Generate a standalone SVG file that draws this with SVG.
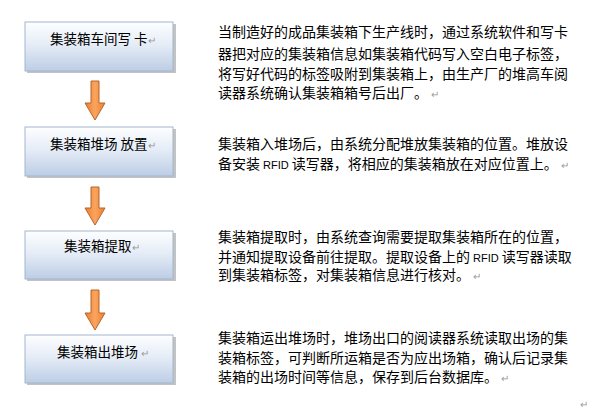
<svg xmlns="http://www.w3.org/2000/svg" width="592" height="411" viewBox="0 0 592 411">
<defs>
<linearGradient id="boxg" x1="0" y1="0" x2="0" y2="1">
<stop offset="0" stop-color="#fdfeff"/>
<stop offset="0.45" stop-color="#e6edf7"/>
<stop offset="1" stop-color="#bccde5"/>
</linearGradient>
<linearGradient id="arrg" x1="0" y1="0" x2="1" y2="0">
<stop offset="0" stop-color="#e9802f"/>
<stop offset="0.5" stop-color="#fba45e"/>
<stop offset="1" stop-color="#e9802f"/>
</linearGradient>
</defs>
<style>
.shadow{fill:#a9a9a9;opacity:0.7}
.box{fill:url(#boxg);stroke:#a3b6cf;stroke-width:1}
.arr{fill:url(#arrg);stroke:#b8652a;stroke-width:1;stroke-linejoin:miter}
.lbl{font-family:"Noto Sans CJK SC","Liberation Sans",sans-serif;font-size:13.5px;fill:#000}
.txt{font-family:"Noto Sans CJK SC","Liberation Sans",sans-serif;font-size:14px;fill:#000}
.rf{font-family:"Liberation Sans","Noto Sans CJK SC",sans-serif;font-size:11px}
.pm{font-family:"Liberation Sans","Noto Sans CJK SC",sans-serif;font-size:10px;fill:#9a9a9a}
</style>
<rect width="592" height="411" fill="#ffffff"/>

<g id="connectors">
<path class="arr" d="M91,81 H99 V103 H105 L95,120 L85,103 H91 Z"/>
<path class="arr" d="M91,187 H99 V208 H105 L95,225 L85,208 H91 Z"/>
<path class="arr" d="M91,290 H99 V313 H105 L95,330 L85,313 H91 Z"/>
</g>

<g id="node1">
<rect class="shadow" x="27" y="24" width="149" height="49"/>
<rect class="box" x="25" y="22" width="148" height="49"/>
<text class="lbl" x="50" y="44">集装箱车间写 卡<tspan class="pm">↵</tspan></text>
</g>
<g id="node2">
<rect class="shadow" x="27" y="129" width="149" height="49"/>
<rect class="box" x="25" y="127" width="148" height="49"/>
<text class="lbl" x="50" y="149">集装箱堆场 放置<tspan class="pm">↵</tspan></text>
</g>
<g id="node3">
<rect class="shadow" x="27" y="233" width="149" height="48"/>
<rect class="box" x="25" y="231" width="148" height="48"/>
<text class="lbl" x="64" y="251">集装箱提取<tspan class="pm">↵</tspan></text>
</g>
<g id="node4">
<rect class="shadow" x="27" y="337" width="149" height="48"/>
<rect class="box" x="25" y="335" width="148" height="48"/>
<text class="lbl" x="57" y="357">集装箱出堆场<tspan class="pm"> ↵</tspan></text>
</g>

<g id="desc1">
<text class="txt" x="218" y="37">当制造好的成品集装箱下生产线时，通过系统软件和写卡</text>
<text class="txt" x="218" y="58.5">器把对应的集装箱信息如集装箱代码写入空白电子标签，</text>
<text class="txt" x="218" y="79">将写好代码的标签吸附到集装箱上，由生产厂的堆高车阅</text>
<text class="txt" x="218" y="98">读器系统确认集装箱箱号后出厂。<tspan class="pm"> ↵</tspan></text>
</g>
<g id="desc2">
<text class="txt" x="218" y="149">集装箱入堆场后，由系统分配堆放集装箱的位置。堆放设</text>
<text class="txt" x="218" y="169">备安装<tspan class="rf"> RFID </tspan>读写器，将相应的集装箱放在对应位置上。<tspan class="pm"> ↵</tspan></text>
</g>
<g id="desc3">
<text class="txt" x="218" y="242">集装箱提取时，由系统查询需要提取集装箱所在的位置，</text>
<text class="txt" x="218" y="261.5">并通知提取设备前往提取。提取设备上的<tspan class="rf"> RFID </tspan>读写器读取</text>
<text class="txt" x="218" y="280">到集装箱标签，对集装箱信息进行核对。<tspan class="pm"> ↵</tspan></text>
</g>
<g id="desc4">
<text class="txt" x="218" y="343">集装箱运出堆场时，堆场出口的阅读器系统读取出场的集</text>
<text class="txt" x="218" y="363">装箱标签，可判断所运箱是否为应出场箱，确认后记录集</text>
<text class="txt" x="218" y="382">装箱的出场时间等信息，保存到后台数据库。<tspan class="pm"> ↵</tspan></text>
<text class="pm" x="580" y="408">↵</text>
</g>
</svg>
